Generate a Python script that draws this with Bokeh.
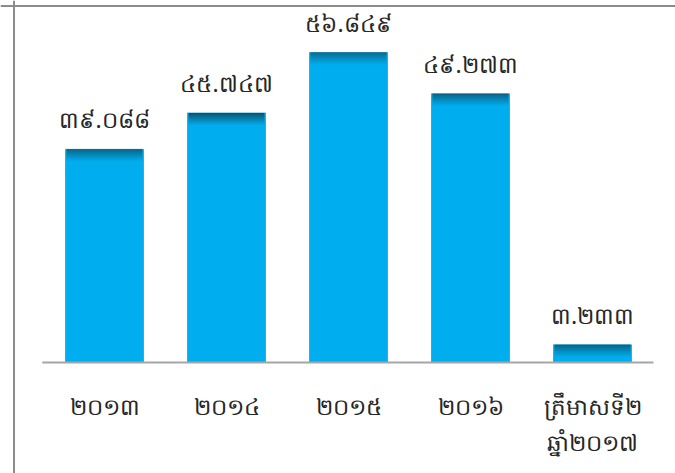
from bokeh.plotting import figure
from bokeh.models import Range1d, Span
from bokeh.core.properties import value
from bokeh.embed import file_html
from bokeh.resources import INLINE

categories = ["២០១៣", "២០១៤", "២០១៥", "២០១៦", "ត្រឹមាសទី២\nឆ្នាំ២០១៧"]
values = [39.088, 45.747, 56.849, 49.273, 3.233]
value_labels = ["៣៩.០៨៨", "៤៥.៧៤៧", "៥៦.៨៤៩", "៤៩.២៧៣", "៣.២៣៣"]

FONT = "Noto Sans"
W, H = 675, 473
px_per_unit = 5.453
x_px = 122.0
base_px = 362      # screen y of the zero line
first_px = 104     # screen x of the first bar centre

p = figure(width=W, height=H, output_backend="svg", toolbar_location=None,
           min_border=0, min_border_left=0, min_border_right=0,
           min_border_top=0, min_border_bottom=0)
y0 = -(H - base_px) / px_per_unit
y1 = base_px / px_per_unit
x0 = -first_px / x_px
x1 = x0 + W / x_px
p.x_range = Range1d(x0, x1)
p.y_range = Range1d(y0, y1)
p.axis.visible = False
p.grid.visible = False
p.outline_line_color = None
p.background_fill_color = "white"
p.border_fill_color = "white"

xs = list(range(len(categories)))
bw = 78 / x_px

# main bars
p.vbar(x=xs, top=values, bottom=0, width=bw, fill_color="#00AEEF",
       line_color="#3BA9D6", line_width=1)

# top shading band (gradient made of thin slices)
dark = (12, 84, 112)
light = (0, 174, 239)
n = 13
step = 1.0 / px_per_unit
for i in range(n):
    t = i / (n - 1)
    c = tuple(int(round(dark[k] + (light[k] - dark[k]) * t ** 0.9)) for k in range(3))
    col = "#%02x%02x%02x" % c
    tops = [max(v - i * step, 0) for v in values]
    bots = [max(v - (i + 1) * step, 0) for v in values]
    p.vbar(x=xs, top=tops, bottom=bots, width=bw - 2 / x_px, fill_color=col,
           line_color=None)

# baseline axis line
p.segment(x0=[-0.51], y0=[0], x1=[4.5], y1=[0], line_color="#A6A6A6", line_width=2)

# value labels
p.text(x=xs, y=values, text=value_labels, text_align="center",
       text_baseline="bottom", y_offset=-14, text_font=value(FONT),
       text_font_size="23px", text_color="#262626")

# category labels
p.text(x=xs, y=[0] * len(xs), text=categories, text_align="center",
       text_baseline="top", y_offset=27, text_font=value(FONT),
       text_font_size="23px", text_color="#262626", text_line_height=1.15)

# frame lines (left and top)
p.add_layout(Span(location=x0 + 13.5 / x_px, dimension="height",
                  line_color="#8C8C8C", line_width=2))
p.add_layout(Span(location=y1 - 5.5 / px_per_unit, dimension="width",
                  line_color="#8C8C8C", line_width=2))

open("out.html", "w").write(file_html(p, INLINE))
